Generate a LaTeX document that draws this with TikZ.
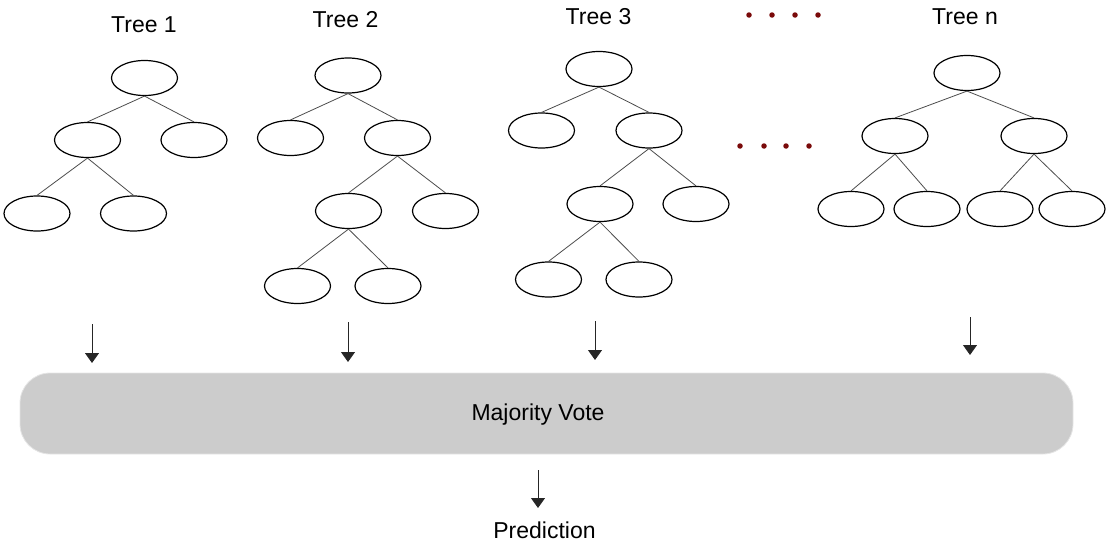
\documentclass[tikz,border=0pt]{standalone}
\usepackage{fontspec}
\setmainfont{Liberation Sans}
\usetikzlibrary{shapes.geometric,arrows.meta}
\definecolor{dotred}{HTML}{7A0A0A}
\definecolor{boxgray}{HTML}{CCCCCC}
\tikzset{
  leaf/.style={ellipse,draw=black,line width=1.2pt,minimum width=66pt,minimum height=35pt,inner sep=0pt},
  branch/.style={draw=black!70,line width=0.8pt},
  down/.style={draw=black!85,line width=0.9pt,-{Triangle[width=14pt,length=10pt]}},
  lbl/.style={font=\fontsize{23}{27}\selectfont,anchor=base,inner sep=0pt},
  ddot/.style={circle,fill=dotred,inner sep=0pt,minimum size=5.5pt},
  votebox/.style={rectangle,rounded corners=30pt,fill=boxgray,draw=black!10,line width=0.8pt,minimum width=1053pt,minimum height=81pt,inner sep=0pt}
}
\begin{document}
\begin{tikzpicture}[x=1pt,y=-1pt]
\useasboundingbox (0,0) rectangle (1106,541);
% Tree 1
\node[lbl] (t1) at (144,32) {Tree 1};
\node[leaf] (a0) at (144.5,78) {};
\node[leaf] (a1) at (87.5,140) {};
\node[leaf] (a2) at (194,140) {};
\node[leaf] (a3) at (37,213.5) {};
\node[leaf] (a4) at (133.5,213.5) {};
\draw[branch] (a0.south) -- (a1.north);
\draw[branch] (a0.south) -- (a2.north);
\draw[branch] (a1.south) -- (a3.north);
\draw[branch] (a1.south) -- (a4.north);
% Tree 2
\node[lbl] (t2) at (345.5,27) {Tree 2};
\node[leaf] (b0) at (348,75.5) {};
\node[leaf] (b1) at (290.5,138) {};
\node[leaf] (b2) at (397.5,138) {};
\node[leaf] (b3) at (348.5,211) {};
\node[leaf] (b4) at (445.5,211) {};
\node[leaf] (b5) at (297.5,286) {};
\node[leaf] (b6) at (388,286) {};
\draw[branch] (b0.south) -- (b1.north);
\draw[branch] (b0.south) -- (b2.north);
\draw[branch] (b2.south) -- (b3.north);
\draw[branch] (b2.south) -- (b4.north);
\draw[branch] (b3.south) -- (b5.north);
\draw[branch] (b3.south) -- (b6.north);
% Tree 3
\node[lbl] (t3) at (598.5,24) {Tree 3};
\node[leaf] (c0) at (599,69) {};
\node[leaf] (c1) at (541.5,130.5) {};
\node[leaf] (c2) at (649,130.5) {};
\node[leaf] (c3) at (600,204) {};
\node[leaf] (c4) at (696,204) {};
\node[leaf] (c5) at (548.5,279.5) {};
\node[leaf] (c6) at (639,279.5) {};
\draw[branch] (c0.south) -- (c1.north);
\draw[branch] (c0.south) -- (c2.north);
\draw[branch] (c2.south) -- (c3.north);
\draw[branch] (c2.south) -- (c4.north);
\draw[branch] (c3.south) -- (c5.north);
\draw[branch] (c3.south) -- (c6.north);
% dots
\node[ddot] (p1) at (749,15) {};
\node[ddot] (p2) at (772,15) {};
\node[ddot] (p3) at (795,15) {};
\node[ddot] (p4) at (818,15) {};
\node[ddot] (q1) at (740,146) {};
\node[ddot] (q2) at (764,146) {};
\node[ddot] (q3) at (786,146) {};
\node[ddot] (q4) at (809,146) {};
% Tree n
\node[lbl] (tn) at (965,24) {Tree n};
\node[leaf] (d0) at (967,73) {};
\node[leaf] (d1) at (895,136) {};
\node[leaf] (d2) at (1034,136) {};
\node[leaf] (d3) at (851,209) {};
\node[leaf] (d4) at (927,209) {};
\node[leaf] (d5) at (1000,209) {};
\node[leaf] (d6) at (1072,209) {};
\draw[branch] (d0.south) -- (d1.north);
\draw[branch] (d0.south) -- (d2.north);
\draw[branch] (d1.south) -- (d3.north);
\draw[branch] (d1.south) -- (d4.north);
\draw[branch] (d2.south) -- (d5.north);
\draw[branch] (d2.south) -- (d6.north);
% Majority vote box
\node[votebox] (mv) at (546.5,413.5) {};
\node[lbl] (mvt) at (538,420) {Majority Vote};
\node[lbl] (pred) at (544.5,538) {Prediction};
% arrows
\coordinate (s1) at (92,324);
\coordinate (e1) at (92,363);
\coordinate (s2) at (348,322);
\coordinate (e2) at (348,362);
\coordinate (s3) at (595,321);
\coordinate (e3) at (595,360);
\coordinate (s4) at (970,317);
\coordinate (e4) at (970,355);
\coordinate (s5) at (538,470);
\coordinate (e5) at (538,508);
\draw[down] (s1) -- (e1);
\draw[down] (s2) -- (e2);
\draw[down] (s3) -- (e3);
\draw[down] (s4) -- (e4);
\draw[down] (s5) -- (e5);
\end{tikzpicture}
\end{document}
